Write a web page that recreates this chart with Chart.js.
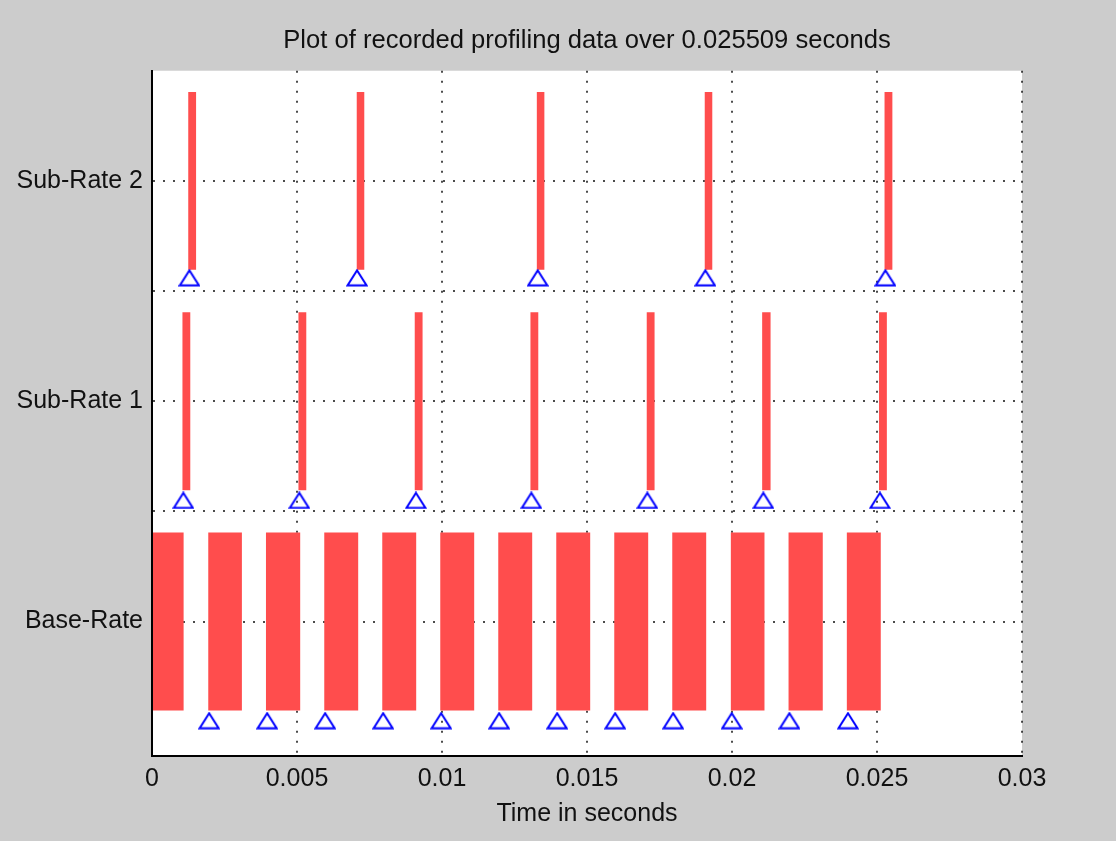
<!DOCTYPE html>
<html><head><meta charset="utf-8">
<script src="https://cdn.jsdelivr.net/npm/chart.js@4.4.0/dist/chart.umd.min.js"></script>
<style>html,body{margin:0;padding:0;background:#cccccc;}#wrap{width:1116px;height:841px;position:relative;}</style>
</head><body><div id="wrap"><canvas id="c"></canvas></div>
<script>
const titleText = 'Plot of recorded profiling data over 0.025509 seconds';
const xAxisTitle = 'Time in seconds';
const xTickValues = [0, 0.005, 0.01, 0.015, 0.02, 0.025, 0.03];
const xTickLabels = ['0', '0.005', '0.01', '0.015', '0.02', '0.025', '0.03'];
const yTickValues = [1, 2, 3, 4, 5];
const yTickLabels = ['Base-Rate', '', 'Sub-Rate 1', '', 'Sub-Rate 2'];

// Base-Rate task executions (row 1)
const baseRow = 1;
const baseStart = [0, 0.00194, 0.00393, 0.00594, 0.00794, 0.00994, 0.01194, 0.01394, 0.01594, 0.01794, 0.01996, 0.02195, 0.02396];
const baseEnd   = [0.00109, 0.0031, 0.00511, 0.00711, 0.00911, 0.01111, 0.01311, 0.01511, 0.01711, 0.01911, 0.02112, 0.02313, 0.02513];
const baseTrigger = [0.00197, 0.00397, 0.00597, 0.00797, 0.00997, 0.01197, 0.01397, 0.01597, 0.01797, 0.01999, 0.02198, 0.024];
const baseTriggerLevel = 0.1;

// Sub-Rate 1 task executions (row 3)
const sub1Row = 3;
const sub1Start = [0.00105, 0.00505, 0.00906, 0.01305, 0.01706, 0.02104, 0.02507];
const sub1End   = [0.00132, 0.00532, 0.00933, 0.01332, 0.01733, 0.02133, 0.02534];
const sub1Trigger = [0.00108, 0.00508, 0.0091, 0.01308, 0.01708, 0.02108, 0.0251];
const sub1TriggerLevel = 2.1;

// Sub-Rate 2 task executions (row 5)
const sub2Row = 5;
const sub2Start = [0.00125, 0.00706, 0.01327, 0.01906, 0.02526];
const sub2End   = [0.00152, 0.00732, 0.01353, 0.01932, 0.02553];
const sub2Trigger = [0.00129, 0.00707, 0.0133, 0.01908, 0.02529];
const sub2TriggerLevel = 4.12;

const yMin = -0.22, yMax = 6.0;
const xMin = 0, xMax = 0.03;

function barData(starts, ends, row) {
  return starts.map((s, i) => ({ x: [s, ends[i]], y: row }));
}
function trigData(times, level) {
  return times.map(t => ({ x: t, y: level }));
}
function makeTriangle() {
  const c = document.createElement('canvas');
  c.width = 22; c.height = 18;
  const g = c.getContext('2d');
  g.strokeStyle = '#0000ff';
  g.lineWidth = 2;
  g.beginPath();
  g.moveTo(11, 1.5); g.lineTo(20.5, 16.5); g.lineTo(1.5, 16.5); g.closePath();
  g.stroke();
  return c;
}
const tri = makeTriangle();

const plotBg = {
  id: 'plotBg',
  beforeDraw(chart) {
    const { ctx, chartArea: a } = chart;
    ctx.save();
    ctx.fillStyle = '#ffffff';
    ctx.fillRect(a.left, a.top, a.right - a.left, a.bottom - a.top);
    ctx.restore();
  }
};

Chart.defaults.font.family = '"Liberation Sans", Arial, sans-serif';
Chart.defaults.font.size = 25;
Chart.defaults.color = '#111';

const barColor = 'rgb(255,77,77)';
const barCommon = {
  type: 'bar', indexAxis: 'y', backgroundColor: barColor, borderWidth: 0,
  grouped: false, categoryPercentage: 1.0, barPercentage: 1.615, order: 1
};
const trigCommon = {
  type: 'scatter', pointStyle: tri, pointRadius: 10, showLine: false, order: 0
};

new Chart(document.getElementById('c'), {
  type: 'bar',
  data: {
    datasets: [
      Object.assign({ label: 'Base-Rate trigger', data: trigData(baseTrigger, baseTriggerLevel) }, trigCommon),
      Object.assign({ label: 'Sub-Rate 1 trigger', data: trigData(sub1Trigger, sub1TriggerLevel) }, trigCommon),
      Object.assign({ label: 'Sub-Rate 2 trigger', data: trigData(sub2Trigger, sub2TriggerLevel) }, trigCommon),
      Object.assign({ label: 'Base-Rate', data: barData(baseStart, baseEnd, baseRow) }, barCommon),
      Object.assign({ label: 'Sub-Rate 1', data: barData(sub1Start, sub1End, sub1Row) }, barCommon),
      Object.assign({ label: 'Sub-Rate 2', data: barData(sub2Start, sub2End, sub2Row) }, barCommon)
    ]
  },
  options: {
    responsive: true, maintainAspectRatio: false, animation: false,
    layout: { padding: { left: 0, right: 94, top: 0, bottom: 0 } },
    plugins: {
      legend: { display: false },
      tooltip: { enabled: false },
      title: { display: true, fullSize: false, text: titleText, color: '#111', font: { size: 25.6, weight: 'normal' }, padding: { top: 26, bottom: 14 } }
    },
    scales: {
      x: {
        type: 'linear', min: xMin, max: xMax, position: 'bottom', offset: false,
        afterBuildTicks: s => { s.ticks = xTickValues.map(v => ({ value: v })); },
        afterFit: s => { s.height = 85; },
        ticks: { autoSkip: false, maxRotation: 0, padding: 8, color: '#111',
          callback: (v) => { const i = xTickValues.findIndex(t => Math.abs(t - v) < 1e-9); return i >= 0 ? xTickLabels[i] : ''; } },
        grid: { offset: false, drawTicks: false, color: 'rgba(0,0,0,0.7)', lineWidth: 2 },
        border: { display: true, color: '#000', width: 2, dash: [2, 8] },
        title: { display: true, text: xAxisTitle, color: '#111', font: { size: 25 }, padding: { top: 0, bottom: 12 } }
      },
      y: {
        type: 'linear', min: yMin, max: yMax, position: 'left', offset: false, beginAtZero: false,
        afterBuildTicks: s => { s.ticks = yTickValues.map(v => ({ value: v })); },
        afterFit: s => { s.width = 152; },
        ticks: { autoSkip: false, padding: 9, color: '#111',
          callback: (v) => { const i = yTickValues.indexOf(v); return i >= 0 ? yTickLabels[i] : ''; } },
        grid: { offset: false, drawTicks: false, color: 'rgba(0,0,0,0.7)', lineWidth: 2 },
        border: { display: true, color: '#000', width: 2, dash: [2, 8] }
      }
    }
  },
  plugins: [plotBg]
});
</script>
</body></html>
